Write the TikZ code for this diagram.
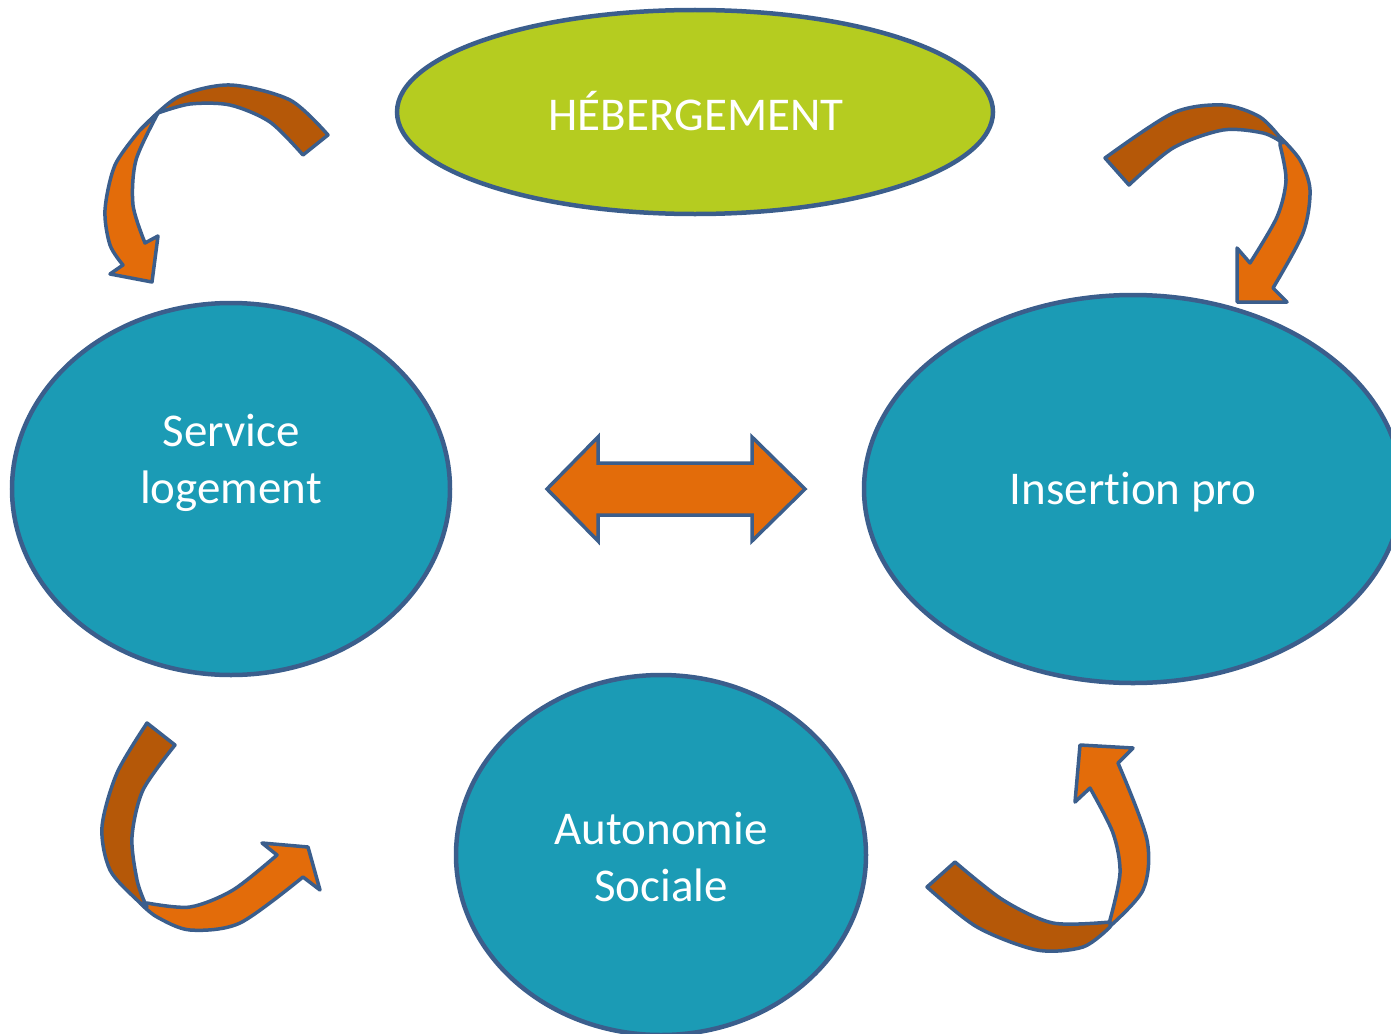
\documentclass[tikz,border=0pt]{standalone}
\usepackage{fontspec}
\setmainfont[Ligatures=NoCommon]{Carlito}
\usetikzlibrary{shapes.geometric}
\definecolor{teal}{RGB}{27,155,181}
\definecolor{lime}{RGB}{181,204,32}
\definecolor{edge}{RGB}{59,94,140}
\definecolor{orng}{RGB}{227,108,10}
\definecolor{dorng}{RGB}{181,88,8}
\tikzset{
  bubble/.style={ellipse, draw=edge, line width=4.5pt, fill=teal, inner sep=0pt},
  topbubble/.style={bubble, fill=lime},
  label/.style={text=white, align=center, inner sep=0pt, font=\fontsize{47}{57}\selectfont},
  lightband/.style={fill=orng, draw=edge, line width=3.5pt, line join=round},
  darkband/.style={fill=dorng, draw=edge, line width=3.5pt, line join=round},
}
\begin{document}
\begin{tikzpicture}[x=1pt,y=-1pt]
\useasboundingbox (0,0) rectangle (1391,1033);
% ellipses
\node[topbubble, minimum width=596pt, minimum height=204pt] (heb) at (695,112) {};
\node[label] (hebt) at (696,111) {HÉBERGEMENT};
\node[bubble, minimum width=438pt, minimum height=372pt] (serv) at (231,489) {};
\node[label] (servt) at (231,463) {Service\\logement};
\node[bubble, minimum width=538pt, minimum height=388pt] (ins) at (1133,489) {};
\node[label] (inst) at (1133,492) {Insert\kern0pt ion pro};
\node[bubble, minimum width=410pt, minimum height=360pt] (auto) at (661,855) {};
\node[label] (autot) at (661,857) {Autonomie\\Sociale};
% double arrow
\filldraw[lightband, line join=miter] (547,489) -- (598,437) -- (598,463) -- (752,463) -- (752,437) -- (805,489)
  -- (752,541) -- (752,515) -- (598,515) -- (598,541) -- cycle;
% top-left curved arrow
\filldraw[lightband] plot[smooth] coordinates {(140,130) (115,165) (105,210) (110,245) (123,265)}
  -- (110,274) -- (152,282) -- (158,236) -- (145,243)
  -- plot[smooth] coordinates {(145,243) (133,205) (136,160) (158,113)} -- cycle;
\filldraw[darkband] plot[smooth] coordinates {(328,135) (290,100) (230,85) (178,97) (140,130)}
  -- plot[smooth] coordinates {(158,113) (190,104) (230,105) (270,122) (303,155)} -- cycle;
% top-right curved arrow
\filldraw[lightband] plot[smooth] coordinates {(1280,137) (1300,160) (1310,190) (1303,233) (1273,288)}
  -- (1287,302) -- (1237,302) -- (1237,248) -- (1250,263)
  -- plot[smooth] coordinates {(1250,263) (1277,217) (1286,180) (1280,145)} -- cycle;
\filldraw[darkband] plot[smooth] coordinates {(1105,158) (1173,113) (1223,105) (1260,117) (1282,140)}
  -- plot[smooth] coordinates {(1283,143) (1263,133) (1223,130) (1173,148) (1129,185)} -- cycle;
% bottom-left curved arrow
\filldraw[lightband] plot[smooth] coordinates {(140,903) (157,917) (190,930) (240,923) (303,877)}
  -- (320,890) -- (308,847) -- (262,843) -- (277,855)
  -- plot[smooth] coordinates {(277,855) (233,890) (190,907) (147,903)} -- cycle;
\filldraw[darkband] plot[smooth] coordinates {(147,723) (117,773) (102,827) (110,870) (137,900) (147,907)}
  -- plot[smooth] coordinates {(145,903) (137,880) (132,837) (143,790) (175,745)} -- cycle;
% bottom-right curved arrow
\filldraw[lightband] plot[smooth] coordinates {(1108,928) (1143,890) (1147,840) (1118,763)}
  -- (1133,748) -- (1080,745) -- (1075,802) -- (1090,788)
  -- plot[smooth] coordinates {(1090,788) (1113,833) (1120,873) (1110,920)} -- cycle;
\filldraw[darkband] plot[smooth] coordinates {(927,887) (977,927) (1037,950) (1083,947) (1110,927)}
  -- plot[smooth] coordinates {(1110,922) (1053,923) (1003,900) (955,862)} -- cycle;
\end{tikzpicture}
\end{document}
